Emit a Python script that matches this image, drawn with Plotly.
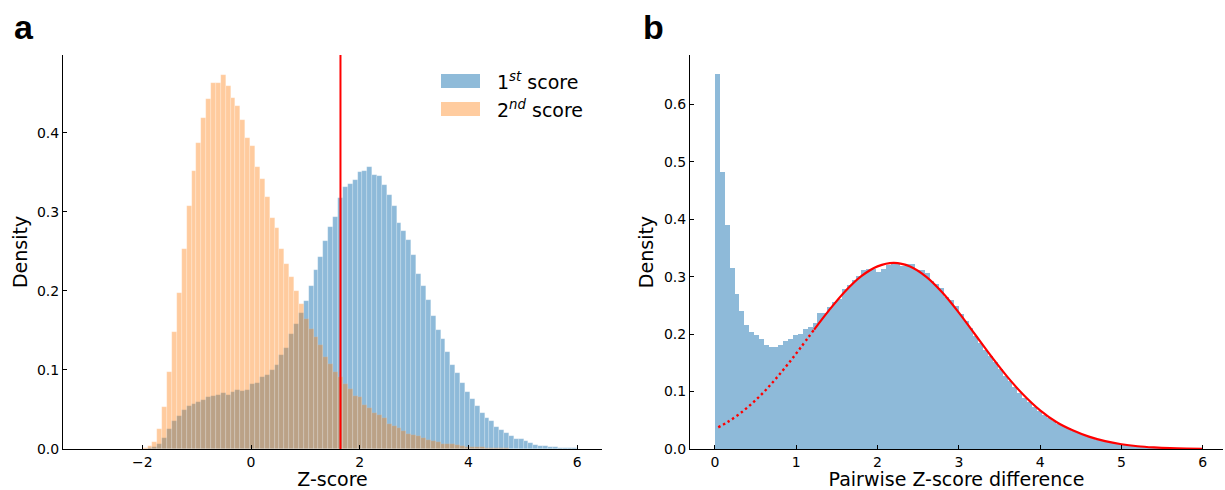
import numpy as np
import plotly.graph_objects as go

# ---------------- Panel a data ----------------
a_bin_start = -1.992
a_bin_width = 0.0898
first_score = [0, 0.001, 0.0025, 0.0063, 0.0139, 0.0253, 0.0354, 0.0418, 0.0494, 0.0544,
               0.057, 0.059, 0.0624, 0.0658, 0.067, 0.0684, 0.0705, 0.0684, 0.0717, 0.0747,
               0.0734, 0.0747, 0.0823, 0.084, 0.0916, 0.094, 0.1, 0.1068, 0.119, 0.128,
               0.1456, 0.158, 0.1726, 0.1878, 0.2063, 0.2266, 0.2426, 0.263, 0.2806, 0.2937,
               0.3177, 0.331, 0.335, 0.3405, 0.3506, 0.352, 0.3565, 0.347, 0.345, 0.3338,
               0.3215, 0.3076, 0.286, 0.276, 0.265, 0.245, 0.221, 0.206, 0.188, 0.168,
               0.151, 0.139, 0.1228, 0.106, 0.0958, 0.0835, 0.0717, 0.0629, 0.054, 0.045,
               0.0388, 0.035, 0.0278, 0.024, 0.0198, 0.0165, 0.0122, 0.0122, 0.0097, 0.0072,
               0.0055, 0.0042, 0.0034, 0.0025, 0.0021, 0.0017, 0.0017, 0.0013, 0.001]
second_score = [0.001, 0.0038, 0.0093, 0.025, 0.053, 0.0975, 0.1485, 0.198, 0.2536, 0.308,
                0.352, 0.387, 0.419, 0.4426, 0.463, 0.4637, 0.474, 0.46, 0.444, 0.434,
                0.4165, 0.394, 0.3835, 0.3565, 0.342, 0.319, 0.293, 0.28, 0.2536, 0.2346,
                0.2177, 0.2, 0.1835, 0.1646, 0.152, 0.1414, 0.1316, 0.1165, 0.108, 0.0975,
                0.0916, 0.0823, 0.0755, 0.0675, 0.0662, 0.0557, 0.0523, 0.0456, 0.043, 0.0392,
                0.0316, 0.0295, 0.0266, 0.0228, 0.0194, 0.0177, 0.0165, 0.0135, 0.0118, 0.0101,
                0.0093, 0.0068, 0.0068, 0.0063, 0.0046, 0.0042, 0.003, 0.0025, 0.0025, 0.002,
                0.0015, 0.0012, 0.001, 0.0008, 0.0007, 0.0005, 0.0004]
threshold = 1.645

# ---------------- Panel b data ----------------
b_bin_start = 0.0
b_bin_width = 0.06
pairwise_diff = [0.653, 0.482, 0.39, 0.315, 0.27, 0.24, 0.216, 0.2037, 0.1984, 0.1915,
                 0.181, 0.1775, 0.1775, 0.181, 0.188, 0.1915, 0.1984, 0.2, 0.209, 0.2124,
                 0.219, 0.2367, 0.237, 0.247, 0.256, 0.262, 0.278, 0.2855, 0.295, 0.302,
                 0.3116, 0.314, 0.314, 0.309, 0.314, 0.32, 0.3215, 0.3215, 0.3185, 0.322,
                 0.322, 0.3116, 0.311, 0.306, 0.292, 0.288, 0.28, 0.264, 0.259, 0.249,
                 0.235, 0.223, 0.21, 0.197, 0.185, 0.173, 0.162, 0.151, 0.139, 0.1275,
                 0.118, 0.108, 0.098, 0.089, 0.081, 0.074, 0.066, 0.0595, 0.054, 0.049,
                 0.044, 0.04, 0.036, 0.032, 0.028, 0.025, 0.0215, 0.0185, 0.016, 0.0137,
                 0.0117, 0.01, 0.0086, 0.0073, 0.0063, 0.0054, 0.0046, 0.0039, 0.0032, 0.0027,
                 0.0022, 0.0018, 0.0015, 0.0012, 0.001, 0.0008, 0.0006, 0.0005, 0.0004, 0.0003]
fit_dotted_x = [0.04, 0.15, 0.3, 0.45, 0.6, 0.75, 0.9, 1.05, 1.22]
fit_dotted_y = [0.0377, 0.0464, 0.061, 0.0786, 0.099, 0.1226, 0.1483, 0.1758, 0.208]
fit_solid_x = [1.22, 1.4, 1.6, 1.8, 2.0, 2.2, 2.4, 2.6, 2.8, 3.0, 3.2, 3.4, 3.6, 3.8,
               4.0, 4.2, 4.4, 4.6, 4.8, 5.0, 5.2, 5.4, 5.6, 5.8, 6.0]
fit_solid_y = [0.208, 0.241, 0.2743, 0.3009, 0.318, 0.324, 0.3178, 0.2998, 0.2721, 0.2375,
               0.1994, 0.1611, 0.1251, 0.0935, 0.0672, 0.047, 0.0325, 0.0215, 0.0136, 0.0083,
               0.0048, 0.0027, 0.0014, 0.0007, 0.0003]

a_ctr = a_bin_start + a_bin_width * (np.arange(len(first_score)) + 0.5)
a_ctr2 = a_bin_start + a_bin_width * (np.arange(len(second_score)) + 0.5)
b_ctr = b_bin_start + b_bin_width * (np.arange(len(pairwise_diff)) + 0.5)

BLUE = '#1f77b4'
ORANGE = '#ff7f0e'
FONT = 'DejaVu Sans'
SEAM = dict(color='rgba(255,255,255,0.35)', width=0.5)

fig = go.Figure()
fig.add_trace(go.Bar(x=a_ctr, y=first_score, width=a_bin_width, marker_color=BLUE,
                     marker_line=SEAM, opacity=0.5, name='1st score', showlegend=False,
                     xaxis='x', yaxis='y'))
fig.add_trace(go.Bar(x=a_ctr2, y=second_score, width=a_bin_width, marker_color=ORANGE,
                     marker_line=SEAM, opacity=0.4, name='2nd score', showlegend=False,
                     xaxis='x', yaxis='y'))
fig.add_trace(go.Bar(x=b_ctr, y=pairwise_diff, width=b_bin_width, marker_color=BLUE,
                     marker_line_width=0, opacity=0.5, showlegend=False,
                     xaxis='x2', yaxis='y2'))
fig.add_trace(go.Scatter(x=fit_dotted_x, y=fit_dotted_y, mode='lines', line_shape='spline',
                         line=dict(color='red', width=2.4, dash='2.4px,3px'),
                         showlegend=False, xaxis='x2', yaxis='y2'))
fig.add_trace(go.Scatter(x=fit_solid_x, y=fit_solid_y, mode='lines', line_shape='spline',
                         line=dict(color='red', width=2.2),
                         showlegend=False, xaxis='x2', yaxis='y2'))

W, H = 1225, 490
def px_x(p):
    return p / W
def px_y(p):
    return 1 - p / H

axis_common = dict(showline=True, linecolor='black', linewidth=1, ticks='inside', ticklen=4,
                   tickwidth=1, tickcolor='black', showgrid=False, zeroline=False,
                   tickfont=dict(family=FONT, size=14, color='black'),
                   title_font=dict(family=FONT, size=19, color='black'), automargin=False)

fig.update_layout(
    width=W, height=H, margin=dict(l=0, r=0, t=0, b=0),
    paper_bgcolor='white', plot_bgcolor='white', barmode='overlay', bargap=0,
    xaxis=dict(domain=[px_x(63), px_x(602)], range=[-3.458, 6.455], anchor='y',
               tickvals=[-2, 0, 2, 4, 6], ticktext=['\u22122', '0', '2', '4', '6'],
               title=dict(text='Z-score', standoff=7), **axis_common),
    yaxis=dict(domain=[px_y(449), px_y(55)], range=[0, 0.4987], anchor='x',
               tickvals=[0, 0.1, 0.2, 0.3, 0.4], ticktext=['0.0', '0.1', '0.2', '0.3', '0.4'],
               title=dict(text='Density', standoff=4), **axis_common),
    xaxis2=dict(domain=[px_x(690), px_x(1223)], range=[-0.3075, 6.25], anchor='y2',
                tickvals=[0, 1, 2, 3, 4, 5, 6],
                title=dict(text='Pairwise Z-score difference', standoff=7), **axis_common),
    yaxis2=dict(domain=[px_y(449), px_y(55)], range=[0, 0.686], anchor='x2',
                tickvals=[0, 0.1, 0.2, 0.3, 0.4, 0.5, 0.6],
                ticktext=['0.0', '0.1', '0.2', '0.3', '0.4', '0.5', '0.6'],
                title=dict(text='Density', standoff=5), **axis_common),
    shapes=[
        dict(type='line', xref='x', yref='y domain', x0=threshold, x1=threshold, y0=0, y1=1,
             line=dict(color='red', width=2)),
        dict(type='rect', xref='paper', yref='paper', x0=px_x(441), x1=px_x(480),
             y0=px_y(88), y1=px_y(74), fillcolor=BLUE, opacity=0.5, line_width=0),
        dict(type='rect', xref='paper', yref='paper', x0=px_x(441), x1=px_x(480),
             y0=px_y(116), y1=px_y(102), fillcolor=ORANGE, opacity=0.4, line_width=0),
    ],
    annotations=[
        dict(text='1<sup><i>st</i></sup> score', xref='paper', yref='paper', x=px_x(495),
             y=px_y(81), xanchor='left', yanchor='middle', showarrow=False,
             font=dict(family=FONT, size=19, color='black')),
        dict(text='2<sup><i>nd</i></sup> score', xref='paper', yref='paper', x=px_x(495),
             y=px_y(109), xanchor='left', yanchor='middle', showarrow=False,
             font=dict(family=FONT, size=19, color='black')),
        dict(text='<b>a</b>', xref='paper', yref='paper', x=px_x(12), y=px_y(27),
             xanchor='left', yanchor='middle', showarrow=False,
             font=dict(family='Liberation Sans', size=34, color='black')),
        dict(text='<b>b</b>', xref='paper', yref='paper', x=px_x(641), y=px_y(27),
             xanchor='left', yanchor='middle', showarrow=False,
             font=dict(family='Liberation Sans', size=34, color='black')),
    ],
)

fig.write_html('out.html', config={'displayModeBar': False},
               post_script="document.body.style.margin='0px';")
